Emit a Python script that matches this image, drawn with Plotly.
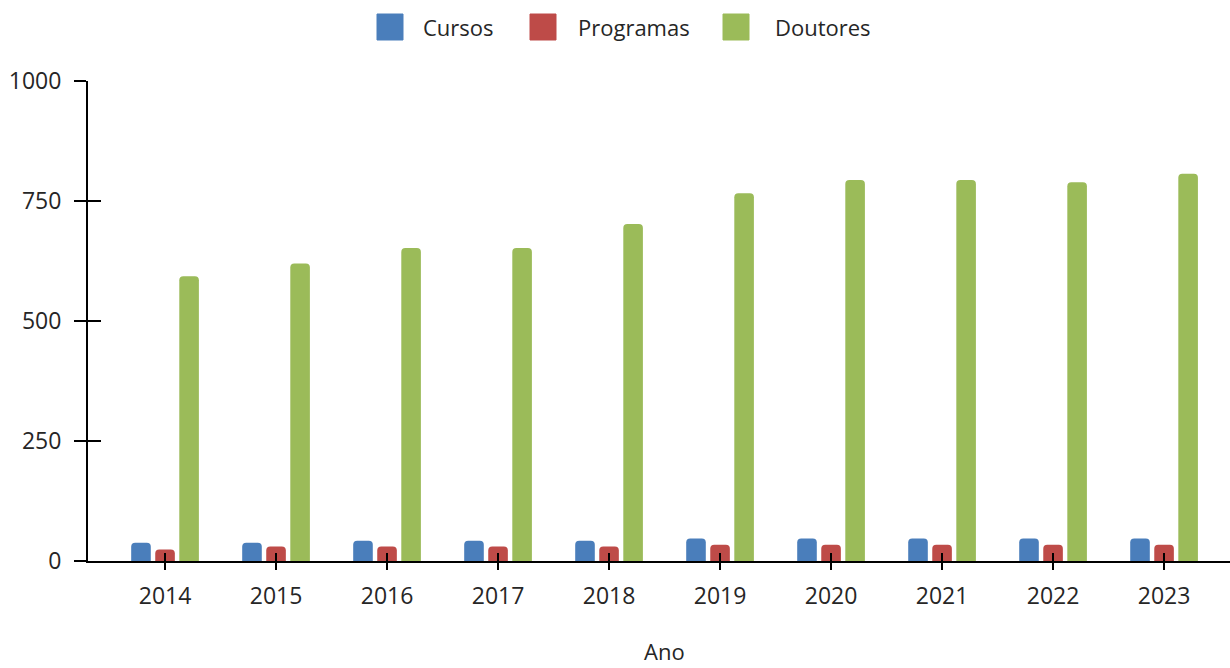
import plotly.graph_objects as go

anos = [2014, 2015, 2016, 2017, 2018, 2019, 2020, 2021, 2022, 2023]
cursos = [38, 38, 42, 42, 42, 47, 47, 47, 47, 47]
programas = [24, 30, 30, 30, 30, 34, 34, 34, 34, 34]
doutores = [593, 620, 652, 652, 702, 766, 794, 794, 789, 807]
y_ticks = [0, 250, 500, 750, 1000]
x_title = "Ano"

series = [
    ("Cursos", cursos, "#4A7EBB"),
    ("Programas", programas, "#BE4B48"),
    ("Doutores", doutores, "#9BBB59"),
]

FONT = "Open Sans"
TXT = "#262626"
W, H = 1230, 668
fig = go.Figure()
for name, vals, col in series:
    fig.add_trace(go.Bar(
        x=anos, y=vals, name=name, showlegend=False,
        marker=dict(color=col, line=dict(width=0), cornerradius=4),
    ))
# empty trace to attach overlay axes (for ticks crossing the axis lines)
fig.add_trace(go.Scatter(x=[], y=[], xaxis="x2", yaxis="y2", showlegend=False))

# legend drawn as swatches + labels (container pixel layout)
leg_sq_x = [377, 530, 723]
leg_txt_x = [421, 576, 773]
for (name, _, col), sx, tx in zip(series, leg_sq_x, leg_txt_x):
    fig.add_shape(type="rect", xref="paper", yref="paper",
                  x0=(sx - 88) / 1142, x1=(sx + 26 - 88) / 1142,
                  y0=1 + (81 - 40) / 480, y1=1 + (81 - 14) / 480,
                  fillcolor=col, line=dict(color=col, width=1))
    fig.add_annotation(text=name, xref="paper", yref="paper",
                       x=(tx - 88) / 1142, y=1 + (81 - 27) / 480,
                       xanchor="left", yanchor="middle", showarrow=False,
                       font=dict(size=22, color=TXT))

# x-axis title
fig.add_annotation(text=x_title, xref="paper", yref="paper",
                   x=(664 - 88) / 1142, y=-(668 - 561) / 480,
                   xanchor="center", yanchor="bottom", showarrow=False,
                   font=dict(size=22, color=TXT))

xr = [anos[0] - 0.694, anos[0] + 9.594]
fig.update_layout(
    width=W, height=H,
    margin=dict(l=88, r=0, t=81, b=107),
    paper_bgcolor="white", plot_bgcolor="white",
    barmode="group", bargap=0.35, bargroupgap=0.185,
    font=dict(family=FONT, size=22, color=TXT),
    showlegend=False,
    xaxis=dict(range=xr, tickvals=anos, ticktext=[str(a) for a in anos], automargin=False,
               showline=True, linecolor="black", linewidth=2, showgrid=False, zeroline=False,
               ticks="outside", ticklen=7, tickwidth=2, tickcolor="black",
               tickfont=dict(size=23), ticklabelstandoff=6),
    yaxis=dict(range=[0, 1000], tickvals=y_ticks, automargin=False,
               showline=True, linecolor="black", linewidth=2, showgrid=False, zeroline=False,
               ticks="outside", ticklen=12, tickwidth=2, tickcolor="black",
               tickfont=dict(size=23), ticklabelstandoff=8),
    xaxis2=dict(overlaying="x", range=xr, tickvals=anos, showticklabels=False, automargin=False,
                showline=False, showgrid=False, zeroline=False, anchor="y2", side="bottom",
                ticks="inside", ticklen=8, tickwidth=2, tickcolor="black"),
    yaxis2=dict(overlaying="y", range=[0, 1000], tickvals=y_ticks, showticklabels=False, automargin=False,
                showline=False, showgrid=False, zeroline=False, anchor="x2", side="left",
                ticks="inside", ticklen=13, tickwidth=2, tickcolor="black"),
)
fig.write_html("out.html", config={"displayModeBar": False},
               post_script="document.body.style.margin='0';document.body.style.overflow='hidden';")
